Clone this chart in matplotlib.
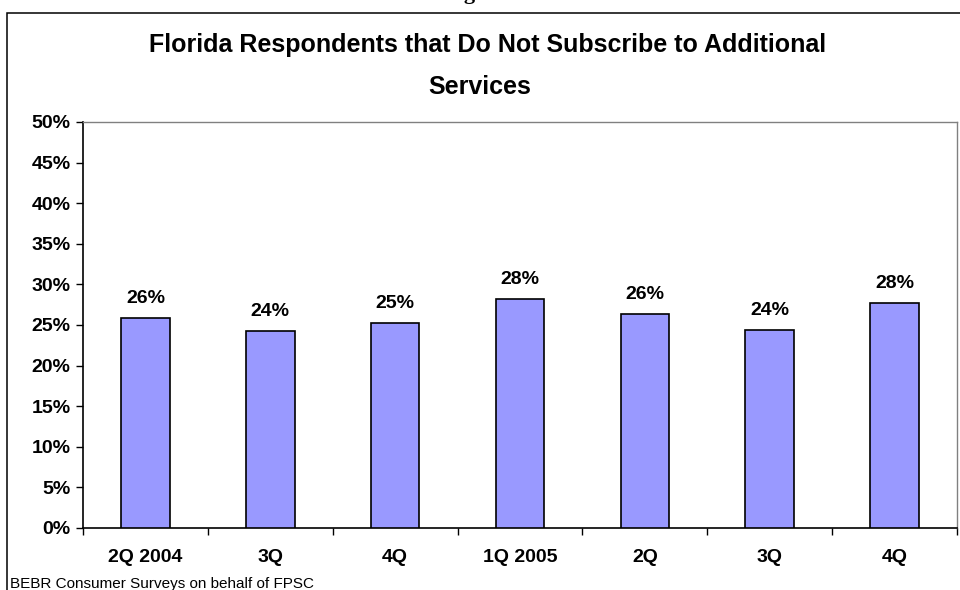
import matplotlib
matplotlib.use("Agg")
import matplotlib.pyplot as plt
from matplotlib.patches import Rectangle
from matplotlib.ticker import FixedLocator, NullFormatter

plt.rcParams["font.family"] = ["Liberation Sans", "DejaVu Sans"]

# Survey quarters and share of respondents without additional services (%)
quarters = ["2Q 2004", "3Q", "4Q", "1Q 2005", "2Q", "3Q", "4Q"]
share_pct = [25.9, 24.3, 25.2, 28.2, 26.4, 24.4, 27.7]
y_ticks = [0, 5, 10, 15, 20, 25, 30, 35, 40, 45, 50]

W, H = 960, 590
fig = plt.figure(figsize=(W / 100, H / 100), dpi=100)
fig.patch.set_facecolor("white")

# Outer chart frame
fig.add_artist(Rectangle((7 / W, -0.05), 1.2, 1 - 13 / H + 0.05,
                         transform=fig.transFigure, fill=False,
                         edgecolor="black", linewidth=1.1))

# Page caption running off the top edge
fig.text(476 / W, 1 + 1 / H, "Figure", ha="center", va="baseline",
         fontsize=16, fontweight="bold", family=["Liberation Serif"])

ax = fig.add_axes([83 / W, 1 - 528 / H, (957 - 83) / W, (528 - 122) / H])
x = list(range(len(quarters)))
bars = ax.bar(x, share_pct, width=0.39, color="#9999FF",
              edgecolor="black", linewidth=1.2, zorder=3)

for xi, v in zip(x, share_pct):
    ax.annotate(f"{v:.0f}%", (xi, v), xytext=(0, 8), textcoords="offset points",
                ha="center", va="bottom", fontsize=14, fontweight="bold")

ax.set_xlim(-0.5, len(quarters) - 0.5)
ax.set_ylim(0, 50)

ax.set_yticks(y_ticks)
ax.set_yticklabels([f"{t}%" for t in y_ticks], fontsize=14, fontweight="bold")
ax.tick_params(axis="y", direction="out", length=5, width=1, pad=4)

ax.set_xticks(x)
ax.set_xticklabels(quarters, fontsize=14, fontweight="bold")
ax.tick_params(axis="x", which="major", length=0, pad=15)
ax.xaxis.set_minor_locator(FixedLocator([i - 0.5 for i in range(len(quarters) + 1)]))
ax.xaxis.set_minor_formatter(NullFormatter())
ax.tick_params(axis="x", which="minor", direction="out", length=5, width=1)

for side in ("left", "bottom"):
    ax.spines[side].set_color("black")
    ax.spines[side].set_linewidth(1.2)
for side in ("top", "right"):
    ax.spines[side].set_color("#808080")
    ax.spines[side].set_linewidth(1.0)

fig.text(488 / W, 1 - 45 / H, "Florida Respondents that Do Not Subscribe to Additional",
         ha="center", va="center", fontsize=18, fontweight="bold")
fig.text(480 / W, 1 - 87 / H, "Services",
         ha="center", va="center", fontsize=18, fontweight="bold")

fig.text(10 / W, 2 / H, "BEBR Consumer Surveys on behalf of FPSC",
         ha="left", va="baseline", fontsize=11)

fig.savefig("out.png", dpi=100)
